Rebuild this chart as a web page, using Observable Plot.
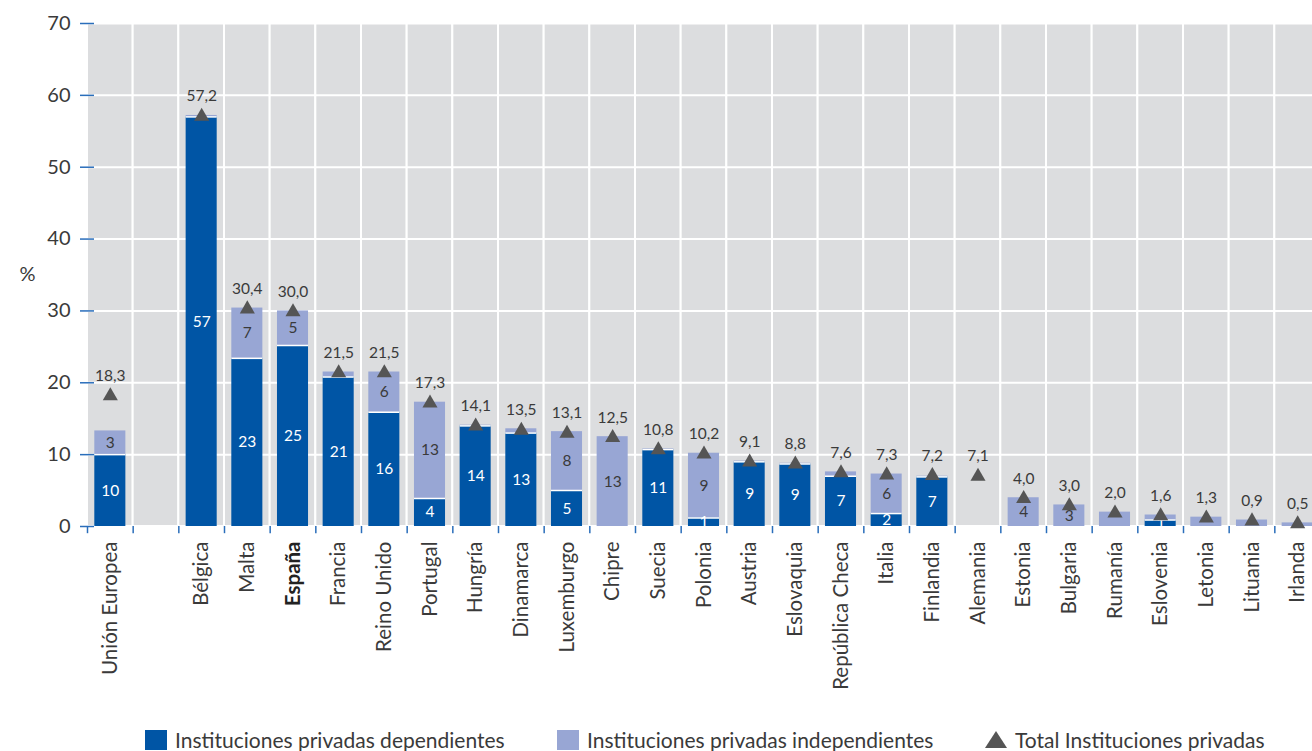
<!DOCTYPE html>
<html>
<head>
<meta charset="utf-8">
<script src="https://cdn.jsdelivr.net/npm/d3@7"></script>
<script src="https://cdn.jsdelivr.net/npm/@observablehq/plot@0.6"></script>
<style>
  html, body { margin: 0; padding: 0; background: #fff; overflow: hidden; width: 1312px; height: 751px; }
  #chart svg { display: block; max-width: none !important; }
  #legend { position: relative; height: 31px; width: 1312px; font-family: Lato, "Open Sans", sans-serif; font-size: 21px; color: #3a3a3a; }
  #legend .item { position: absolute; top: 9px; display: flex; align-items: flex-start; white-space: nowrap; line-height: 22px; }
  #legend .sw { width: 22px; height: 20px; margin-top: 1px; margin-right: 8px; }
  #legend svg { margin-right: 8px; }
</style>
</head>
<body>
<div id="chart"></div>
<div id="legend"></div>
<script>
// ---- Data ----
const categories = ["Unión Europea", " ", "Bélgica", "Malta", "España", "Francia", "Reino Unido", "Portugal", "Hungría", "Dinamarca", "Luxemburgo", "Chipre", "Suecia", "Polonia", "Austria", "Eslovaquia", "República Checa", "Italia", "Finlandia", "Alemania", "Estonia", "Bulgaria", "Rumanía", "Eslovenia", "Letonia", "Lituania", "Irlanda"];
const dependientes   = [10.0, null, 57.0, 23.4, 25.2, 20.8, 15.9, 3.9, 14.0, 13.0, 5.0, 0, 10.7, 1.2, 9.0, 8.7, 7.0, 1.8, 6.9, 0, 0, 0, 0, 0.9, 0, 0, 0];
const independientes = [3.3, null, 0.2, 7.0, 4.8, 0.7, 5.6, 13.4, 0.1, 0.6, 8.2, 12.5, 0.1, 9.0, 0.1, 0.1, 0.6, 5.5, 0.1, 0, 4.0, 3.0, 2.0, 0.7, 1.3, 0.9, 0.5];
const totales        = [18.3, null, 57.2, 30.4, 30.0, 21.5, 21.5, 17.3, 14.1, 13.5, 13.1, 12.5, 10.8, 10.2, 9.1, 8.8, 7.6, 7.3, 7.2, 7.1, 4.0, 3.0, 2.0, 1.6, 1.3, 0.9, 0.5];
const depLabels      = ["10", "", "57", "23", "25", "21", "16", "4", "14", "13", "5", "", "11", "1", "9", "9", "7", "2", "7", "", "", "", "", "1", "", "", ""];
const indepLabels    = ["3", "", "", "7", "5", "", "6", "13", "", "", "8", "13", "", "9", "", "", "", "6", "", "", "4", "3", "", "", "", "", ""];
const yTicks = [0, 10, 20, 30, 40, 50, 60, 70];
const seriesNames = ["Instituciones privadas dependientes", "Instituciones privadas independientes", "Total Instituciones privadas"];

// ---- Styles ----
const DARK = "#0055a5", LIGHT = "#98a6d4", TRI = "#555555", BG = "#dcdddf", TICK = "#2a6ebb", TXT = "#3a3a3a";
const FONT = "Lato, 'Open Sans', sans-serif";

const rows = categories.map((c, i) => ({
  cat: c, dep: dependientes[i], indep: independientes[i], total: totales[i],
  depLabel: depLabels[i], indepLabel: indepLabels[i]
}));
const valid = rows.filter(d => d.total != null);

const W = 1320, H = 720, ML = 87, MR = 0, MT = 23, MB = 194;
const step = (W - ML - MR) / categories.length;
const inset = step * 0.16;

const plot = Plot.plot({
  width: W, height: H,
  marginLeft: ML, marginRight: MR, marginTop: MT, marginBottom: MB,
  style: { fontFamily: FONT, background: "white", overflow: "visible" },
  x: { domain: categories, padding: 0, round: false, axis: null },
  y: { domain: [0, 70], axis: null },
  marks: [
    // gray cells with white separators
    Plot.barY(categories, { x: d => d, y1: 0, y2: 70, fill: BG, stroke: "white", strokeWidth: 2 }),
    Plot.ruleY(yTicks.filter(t => t > 0), { y: d => d, stroke: "white", strokeWidth: 2 }),
    // bars
    Plot.barY(valid.filter(d => d.dep > 0), { x: "cat", y1: 0, y2: "dep", fill: DARK, insetLeft: inset, insetRight: inset }),
    Plot.barY(valid.filter(d => d.indep > 0), { x: "cat", y1: d => d.dep, y2: d => d.dep + d.indep, fill: LIGHT, insetLeft: inset, insetRight: inset }),
    Plot.tickY(valid.filter(d => d.dep > 0 && d.indep > 0), { x: "cat", y: "dep", stroke: "white", strokeWidth: 1.5, insetLeft: inset, insetRight: inset }),
    // segment labels
    Plot.text(valid.filter(d => d.depLabel), { x: "cat", y: d => d.dep / 2, text: "depLabel", fill: "white", fontSize: 15.5 }),
    Plot.text(valid.filter(d => d.indepLabel), { x: "cat", y: d => d.dep + d.indep / 2, text: "indepLabel", fill: TXT, fontSize: 15.5 }),
    // totals
    Plot.dot(valid, { x: "cat", y: "total", symbol: "triangle", r: 5.6, fill: TRI, stroke: null, dy: 1 }),
    Plot.text(valid, { x: "cat", y: "total", text: d => d.total.toFixed(1).replace(".", ","), fill: TXT, fontSize: 15.5, lineAnchor: "bottom", dy: -14 }),
    // y axis
    Plot.axisY(yTicks, { tickSize: 14, dx: 7, tickPadding: 10, stroke: TICK, strokeWidth: 1.5, color: TXT, fontSize: 20, tickFormat: d => String(d) }),
    Plot.text(["%"], { frameAnchor: "left", dx: -68, text: d => d, fill: TXT, fontSize: 20 }),
    // x ticks at category boundaries
    Plot.ruleX(categories, { x: d => d, dx: -step / 2, y1: 0, y2: -1, stroke: TICK, strokeWidth: 1.5 }),
    // x labels
    Plot.text(categories.filter(c => c.trim() && c !== "España"), { x: d => d, y: 0, text: d => d, rotate: -90, textAnchor: "end", dy: 15, fontSize: 20.5, fill: TXT }),
    Plot.text(categories.filter(c => c === "España"), { x: d => d, y: 0, text: d => d, rotate: -90, textAnchor: "end", dy: 15, fontSize: 20.5, fill: "#222", fontWeight: "bold" })
  ]
});
document.getElementById("chart").appendChild(plot);

// ---- Legend ----
const legend = document.getElementById("legend");
const positions = [145, 557, 985];
const swatches = [DARK, LIGHT, null];
seriesNames.forEach((name, i) => {
  const item = document.createElement("div");
  item.className = "item";
  item.style.left = positions[i] + "px";
  if (swatches[i]) {
    const sw = document.createElement("span");
    sw.className = "sw";
    sw.style.background = swatches[i];
    item.appendChild(sw);
  } else {
    const ns = "http://www.w3.org/2000/svg";
    const s = document.createElementNS(ns, "svg");
    s.setAttribute("width", 22); s.setAttribute("height", 22);
    const p = document.createElementNS(ns, "path");
    p.setAttribute("d", "M11,2 L22,19 L0,19 Z");
    p.setAttribute("fill", TRI);
    s.appendChild(p);
    item.appendChild(s);
  }
  const t = document.createElement("span");
  t.textContent = name;
  item.appendChild(t);
  legend.appendChild(item);
});
</script>
</body>
</html>
